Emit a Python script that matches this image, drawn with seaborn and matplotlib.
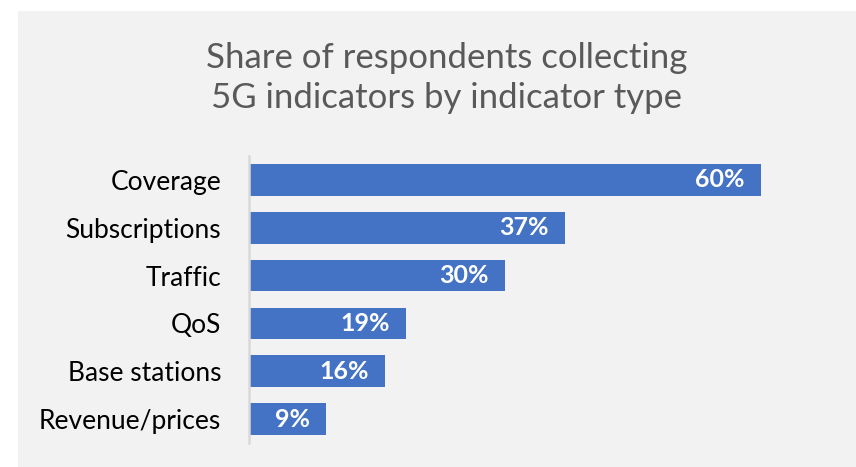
import matplotlib
matplotlib.use("Agg")
import matplotlib.pyplot as plt
import seaborn as sns
import pandas as pd
from matplotlib.patches import Rectangle

# data
indicators = ["Coverage", "Subscriptions", "Traffic", "QoS", "Base stations", "Revenue/prices"]
shares = [60, 37, 30, 18.4, 16, 9]
share_labels = ["60%", "37%", "30%", "19%", "16%", "9%"]

df = pd.DataFrame({"indicator": indicators, "share": shares})

sns.set_theme(style="white")
plt.rcParams["font.family"] = ["Lato", "DejaVu Sans"]

fig = plt.figure(figsize=(8.56, 4.67), dpi=100)
fig.patch.set_facecolor("white")
# grey chart area, offset like the original screenshot
fig.patches.append(Rectangle((18 / 856, 0), 1, 1 - 11 / 467, transform=fig.transFigure,
                             facecolor="#f2f2f2", edgecolor="none", zorder=-10))

ax = fig.add_axes([249 / 856, 24 / 467, (846 - 249) / 856, (443 - 156) / 467])
ax.set_facecolor("none")

sns.barplot(data=df, x="share", y="indicator", color="#4472c4", saturation=1,
            width=0.66, linewidth=0, ax=ax)

for i, (v, lab) in enumerate(zip(shares, share_labels)):
    ax.text(v - 1.9, i, lab, ha="right", va="center", color="white",
            fontsize=18, fontweight="bold")

ax.set_xlim(0, 70)
ax.set_ylim(5.5, -0.5)
ax.set_xlabel("")
ax.set_ylabel("")
ax.set_xticks([])
ax.tick_params(axis="y", length=0, pad=20, labelsize=19, labelcolor="black")
for s in ["top", "right", "bottom"]:
    ax.spines[s].set_visible(False)
ax.spines["left"].set_color("#d9d9d9")
ax.spines["left"].set_linewidth(1.8)

fig.text(0.522, 1 - 78 / 467, "Share of respondents collecting\n5G indicators by indicator type",
         ha="center", va="center", color="#595959", fontsize=25, linespacing=1.3)

fig.savefig("out.png", dpi=100)
